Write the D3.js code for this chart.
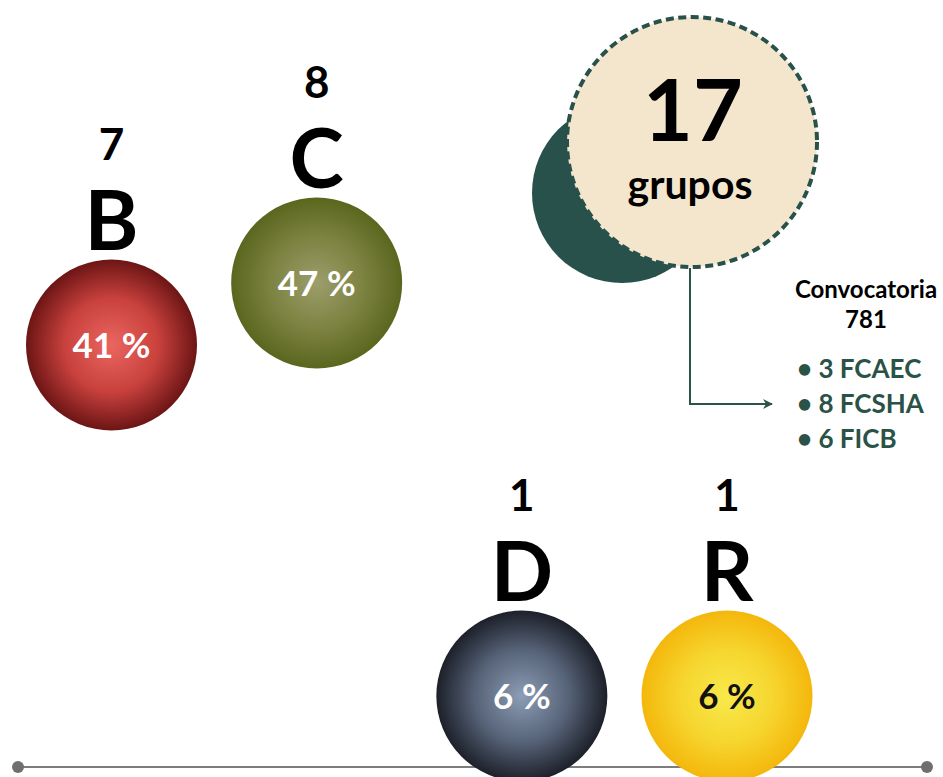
<!DOCTYPE html>
<html>
<head>
<meta charset="utf-8">
<script src="https://cdn.jsdelivr.net/npm/d3@7"></script>
<style>
  html, body { margin: 0; padding: 0; background: #ffffff; }
  svg { display: block; }
  text { font-family: "Lato", "Open Sans", sans-serif; font-weight: 700; }
</style>
</head>
<body>
<svg id="chart" width="943" height="777"></svg>
<script>
// Research groups by category
const categories = ["B", "C", "D", "R"];
const groupCounts = [7, 8, 1, 1];
const groupPercents = [41, 47, 6, 6];

// Call 781 breakdown by faculty
const faculties = ["FCAEC", "FCSHA", "FICB"];
const facultyCounts = [3, 8, 6];
const callTitle = ["Convocatoria", "781"];
const totalLabel = "grupos";

const totalGroups = d3.sum(groupCounts);

// Visual styling per category (gradient centre / edge, label colour)
const styles = {
  B: { inner: "#ec6660", mid: "#c8413d", outer: "#6c1515", text: "#ffffff" },
  C: { inner: "#9c9e6c", mid: "#7c8240", outer: "#5a661e", text: "#ffffff" },
  D: { inner: "#8c9db5", mid: "#566277", outer: "#1c2029", text: "#ffffff" },
  R: { inner: "#f8ea4c", mid: "#f6d52e", outer: "#f4b70c", text: "#111111" }
};
// Vertical placement of each bubble centre
const rowY = { B: 345, C: 283, D: 696, R: 696 };

const svg = d3.select("#chart");
const R = 85.5;

const x = d3.scalePoint().domain(categories).range([111.5, 727]);

const defs = svg.append("defs");
categories.forEach(c => {
  const g = defs.append("radialGradient")
    .attr("id", "grad-" + c)
    .attr("cx", "50%").attr("cy", "50%").attr("r", "50%");
  g.append("stop").attr("offset", "0%").attr("stop-color", styles[c].inner);
  g.append("stop").attr("offset", "55%").attr("stop-color", styles[c].mid);
  g.append("stop").attr("offset", "100%").attr("stop-color", styles[c].outer);
});
defs.append("marker")
  .attr("id", "arrow")
  .attr("viewBox", "0 0 10 10")
  .attr("refX", 9).attr("refY", 5)
  .attr("markerWidth", 10).attr("markerHeight", 10)
  .attr("markerUnits", "userSpaceOnUse")
  .attr("orient", "auto")
  .append("path")
  .attr("d", "M0,0 L10,5 L0,10 L3,5 Z")
  .attr("fill", "#2b5449");

// Baseline with end dots
const base = svg.append("g");
base.append("line")
  .attr("x1", 18).attr("x2", 927).attr("y1", 767).attr("y2", 767)
  .attr("stroke", "#7d7d7d").attr("stroke-width", 2);
base.selectAll("circle").data([18, 927]).join("circle")
  .attr("cx", d => d).attr("cy", 767).attr("r", 6)
  .attr("fill", "#6f6f6f");

// Category bubbles
const data = categories.map((c, i) => ({ cat: c, count: groupCounts[i], pct: groupPercents[i] }));
const bubble = svg.selectAll("g.bubble").data(data).join("g")
  .attr("class", "bubble")
  .attr("transform", d => `translate(${x(d.cat)},${rowY[d.cat]})`);

bubble.append("circle")
  .attr("r", R)
  .attr("fill", d => `url(#grad-${d.cat})`);

bubble.append("text")
  .attr("text-anchor", "middle")
  .attr("y", 13)
  .attr("font-size", 35)
  .attr("fill", d => styles[d.cat].text)
  .text(d => `${d.pct} %`);

// Category letter just above each bubble, group count above the letter
bubble.append("text")
  .attr("text-anchor", "middle")
  .attr("y", -R - 10)
  .attr("font-size", 82)
  .attr("font-weight", 900)
  .attr("fill", "#000")
  .text(d => d.cat);

bubble.append("text")
  .attr("text-anchor", "middle")
  .attr("y", -R - 100)
  .attr("font-size", 44)
  .attr("fill", "#000")
  .text(d => d.count);

// Total badge
const badge = svg.append("g");
badge.append("circle")
  .attr("cx", 622).attr("cy", 193).attr("r", 90)
  .attr("fill", "#27514a");
badge.append("circle")
  .attr("cx", 692).attr("cy", 142).attr("r", 125)
  .attr("fill", "#f3e6cc")
  .attr("stroke", "#27514a")
  .attr("stroke-width", 4)
  .attr("stroke-dasharray", "8 4.5");
badge.append("text")
  .attr("x", 693).attr("y", 141)
  .attr("text-anchor", "middle")
  .attr("font-size", 86)
  .attr("font-weight", 900)
  .attr("fill", "#000")
  .text(totalGroups);
badge.append("text")
  .attr("x", 690).attr("y", 199)
  .attr("text-anchor", "middle")
  .attr("font-size", 41)
  .attr("fill", "#000")
  .text(totalLabel);

// Connector arrow to the call breakdown
svg.append("path")
  .attr("d", "M690,268 L690,404 L772,404")
  .attr("fill", "none")
  .attr("stroke", "#2b5449")
  .attr("stroke-width", 2)
  .attr("marker-end", "url(#arrow)");

// Call breakdown list
const legend = svg.append("g");
legend.selectAll("text.title").data(callTitle).join("text")
  .attr("class", "title")
  .attr("x", 866)
  .attr("y", (d, i) => 298 + i * 30)
  .attr("text-anchor", "middle")
  .attr("font-size", 24)
  .attr("fill", "#000")
  .text(d => d);

const items = faculties.map((f, i) => ({ name: f, n: facultyCounts[i] }));
legend.selectAll("text.item").data(items).join("text")
  .attr("class", "item")
  .attr("x", 797)
  .attr("y", (d, i) => 378 + i * 35)
  .attr("font-size", 26)
  .attr("fill", "#2a5246")
  .text(d => `• ${d.n} ${d.name}`);
</script>
</body>
</html>
